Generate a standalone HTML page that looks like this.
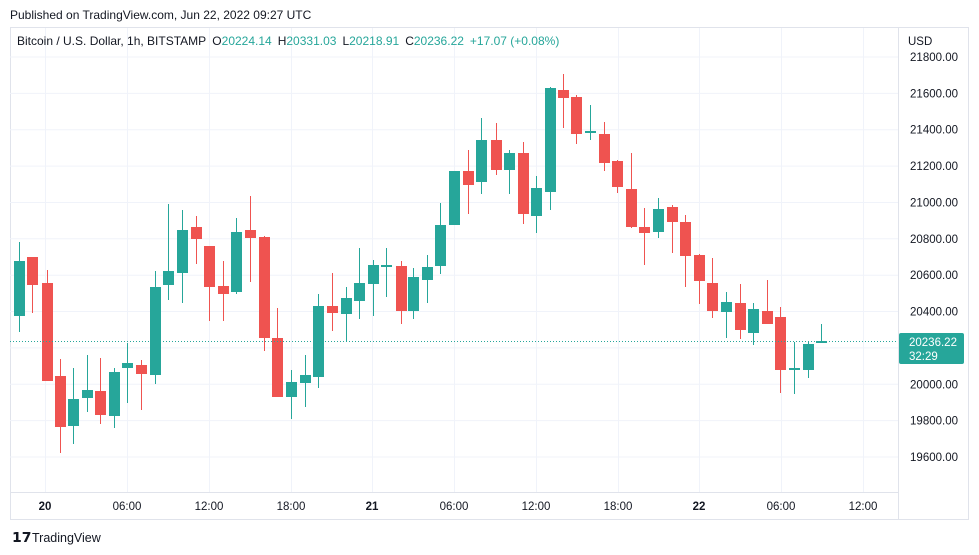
<!DOCTYPE html>
<html><head><meta charset="utf-8"><style>
html,body{margin:0;padding:0;background:#fff;width:979px;height:555px;overflow:hidden}
svg{display:block;font-family:"Liberation Sans",sans-serif}
</style></head><body>
<svg id="s" width="979" height="555" viewBox="0 0 979 555" xmlns="http://www.w3.org/2000/svg">
<rect x="0" y="0" width="979" height="555" fill="#fff"/>
<text x="10" y="19" font-size="12" fill="#131722">Published on TradingView.com, Jun 22, 2022 09:27 UTC</text>
<rect x="10.5" y="27.5" width="958" height="492" fill="none" stroke="#e0e3eb"/>
<line x1="898.5" y1="28" x2="898.5" y2="519" stroke="#e0e3eb"/>
<line x1="10" y1="492.5" x2="898" y2="492.5" stroke="#e0e3eb"/>
<g id="grid" stroke="#f0f3fa" stroke-width="1"></g>
<g id="candles"></g>
<line x1="10" y1="341.5" x2="898" y2="341.5" stroke="#26a69a" stroke-dasharray="1,2"/>
<text x="17" y="45" font-size="12" fill="#131722">Bitcoin / U.S. Dollar, 1h, BITSTAMP  <tspan dx="3">O</tspan><tspan fill="#26a69a">20224.14</tspan><tspan dx="6">H</tspan><tspan fill="#26a69a">20331.03</tspan><tspan dx="6">L</tspan><tspan fill="#26a69a">20218.91</tspan><tspan dx="6">C</tspan><tspan fill="#26a69a">20236.22</tspan><tspan dx="6" fill="#26a69a">+17.07 (+0.08%)</tspan></text>
<text x="908" y="45" font-size="11.5" fill="#131722">USD</text>
<g id="ylab" font-size="11.5" fill="#131722" text-anchor="end"></g>
<rect x="899" y="333" width="65" height="31" rx="2" fill="#26a69a"/>
<text x="909" y="346" font-size="11.5" fill="#fff">20236.22</text>
<text x="909" y="360" font-size="11.5" fill="#fff">32:29</text>
<g id="xlab" font-size="11.5" fill="#131722" text-anchor="middle"></g>
<text x="12" y="542" font-size="14" font-weight="bold" fill="#131722">𝟭𝟳</text>
<text x="32" y="542" font-size="12.5" fill="#131722">TradingView</text>
</svg>
<script>
var NS="http://www.w3.org/2000/svg";
function el(p,t,a,txt){var e=document.createElementNS(NS,t);for(var k in a)e.setAttribute(k,a[k]);if(txt)e.textContent=txt;document.getElementById(p).appendChild(e);}
var prices=[21800,21600,21400,21200,21000,20800,20600,20400,20200,20000,19800,19600];
prices.forEach(function(p){var y=57+(21800-p)*0.18182;
 el("grid","line",{x1:10,x2:898,y1:y.toFixed(1),y2:y.toFixed(1)});
 if(p!==20200) el("ylab","text",{x:958,y:(y+4).toFixed(1)},p.toFixed(2));});
var xs=[[45,"20"],[127,"06:00"],[209,"12:00"],[291,"18:00"],[372,"21"],[454,"06:00"],[536,"12:00"],[618,"18:00"],[699,"22"],[781,"06:00"],[863,"12:00"]];
xs.forEach(function(a){el("grid","line",{x1:a[0]+.5,x2:a[0]+.5,y1:28,y2:492});
 var o={x:a[0],y:510};if(a[1].length<3)o["font-weight"]="bold";el("xlab","text",o,a[1]);});
// x, high, low, bodyTop, bodyBottom, color(g/r)
var C=[
[19,242,332,261,316,"g"],[32,257,313,257,285,"r"],[46.7,270,381,283,381,"r"],[60,359,453,376,427,"r"],
[73,368,444,399,426,"g"],[87,355,412,390,398,"g"],[100,358,424,391,415,"r"],[114,368,428,372,416,"g"],
[127,343,403,363,368,"g"],[141,360,410,365,374,"r"],[155,271,384,287,375,"g"],[168,204,300,271,285,"g"],
[182,210,303,230,273,"g"],[196,216,264,227,239,"r"],[209,246,321,246,287,"r"],[223,261,321,286,294,"r"],
[236,218,294,232,292,"g"],[250,196,282,230,238,"r"],[264,236,351,237,338,"r"],[277,308,397,338,397,"r"],
[291,370,419,382,397,"g"],[305,355,407,375,383,"g"],[318,294,388,306,377,"g"],[332,273,331,306,313,"r"],
[346,287,342,298,314,"g"],[359,248,319,283,301,"g"],[373,260,316,265,284,"g"],[386,248,297,265,267,"g"],
[401,261,324,266,311,"r"],[413,268,319,277,311,"g"],[427,255,303,267,280,"g"],[440,203,274,225,266,"g"],
[454,171,225,171,225,"g"],[468,150,214,171,185,"r"],[481,118,194,140,182,"g"],[496,123,175,140,170,"r"],
[509,150,194,153,170,"g"],[523,142,224,153,214,"r"],[536,176,233,188,216,"g"],[550,87,210,88,192,"g"],
[563,74,128,90,98,"r"],[576,95,144,97,134,"r"],[590,105,140,131,133,"g"],[604,122,171,134,163,"r"],
[617,160,193,161,187,"r"],[631,153,228,189,227,"r"],[644,208,265,227,233,"r"],[658,198,238,209,232,"g"],
[672,205,253,207,222,"r"],[685,215,287,222,256,"r"],[699,254,304,255,281,"r"],[712,258,318,283,311,"r"],
[726,292,338,302,312,"g"],[740,284,339,303,330,"r"],[753,303,345,309,333,"g"],[767,280,324,311,324,"r"],
[780,307,393,317,370,"r"],[794,342,394,368,370,"g"],[808,342,378,344,370,"g"],[821,324,343,341,343,"g"]];
C.forEach(function(c){var col=c[5]=="g"?"#26a69a":"#ef5350";var x=Math.round(c[0]);
 el("candles","line",{x1:x+.5,x2:x+.5,y1:c[1],y2:c[2],stroke:col,"stroke-width":1});
 var h=Math.max(2,c[4]-c[3]);
 el("candles","rect",{x:x-5,y:c[3],width:11,height:h,fill:col});});
</script>
</body></html>
